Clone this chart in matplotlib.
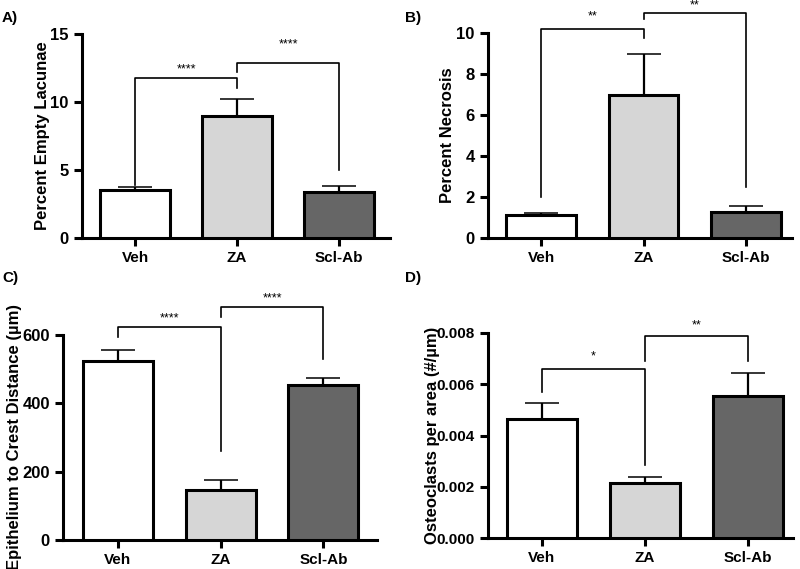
import matplotlib
matplotlib.use("Agg")
import matplotlib.pyplot as plt

plt.rcParams["font.family"] = ["Liberation Sans", "DejaVu Sans"]
plt.rcParams["font.weight"] = "bold"

groups = ["Veh", "ZA", "Scl-Ab"]
colors = ["#ffffff", "#d6d6d6", "#666666"]

# panel A - empty lacunae
lac_mean = [3.5, 9.0, 3.35]
lac_err = [0.25, 1.2, 0.45]
# panel B - necrosis
nec_mean = [1.1, 7.0, 1.25]
nec_err = [0.12, 2.0, 0.32]
# panel C - epithelium to crest distance
dist_mean = [525, 145, 453]
dist_err = [30, 30, 20]
# panel D - osteoclasts per area
ost_mean = [0.00465, 0.00215, 0.00555]
ost_err = [0.00063, 0.00024, 0.0009]

# brackets: (i, j, top, left foot, right foot, label, label y)
lac_br = [(0, 1, 11.8, 3.9, 11.0, "****", 12.4),
          (1, 2, 12.9, 12.2, 5.0, "****", 14.2)]
nec_br = [(0, 1, 10.2, 2.0, 9.75, "**", 10.8),
          (1, 2, 11.0, 10.7, 2.5, "**", 11.36)]
dist_br = [(0, 1, 622, 593, 261, "****", 648),
           (1, 2, 681, 652, 530, "****", 708)]
ost_br = [(0, 1, 0.0066, 0.0057, 0.00286, "*", 0.0071),
          (1, 2, 0.0079, 0.00692, 0.00692, "**", 0.0083)]

W, H = 800, 569
fig = plt.figure(figsize=(8, 5.69), dpi=100)


def panel(px_left, px_right, px_bottom, px_top, means, errs, ymax, yticks,
          ylabel, brackets, xlim, letter, letter_xy, ytickfmt=None, ytsize=12):
    ax = fig.add_axes([px_left / W, (H - px_bottom) / H,
                       (px_right - px_left) / W, (px_bottom - px_top) / H])
    x = range(len(groups))
    ax.bar(x, means, width=0.68, color=colors, edgecolor="black",
           linewidth=2.2, zorder=3)
    ax.errorbar(x, means, yerr=[[0] * 3, errs], fmt="none", ecolor="black",
                elinewidth=1.6, capsize=12.5, capthick=1.1, zorder=2)
    for i, j, top, fl, fr, lab, ly in brackets:
        ax.plot([i, i, j, j], [fl, top, top, fr], color="black", lw=1.2,
                clip_on=False, zorder=4)
        ax.text((i + j) / 2, ly, lab, ha="center", va="center",
                fontsize=9, fontweight="normal", clip_on=False)
    ax.set_xlim(*xlim)
    ax.set_ylim(0, ymax)
    ax.set_yticks(yticks)
    if ytickfmt:
        ax.set_yticklabels([ytickfmt.format(v) for v in yticks])
    ax.set_xticks(list(x))
    ax.set_xticklabels(groups)
    for s in ["top", "right"]:
        ax.spines[s].set_visible(False)
    for s in ["left", "bottom"]:
        ax.spines[s].set_linewidth(2.2)
    ax.tick_params(width=2.2, length=6, labelsize=11)
    ax.tick_params(axis="y", labelsize=ytsize)
    ax.set_ylabel(ylabel, fontsize=12, fontweight="bold")
    fig.text(letter_xy[0] / W, 1 - letter_xy[1] / H, letter, fontsize=11,
             fontweight="bold", va="center", ha="left")
    return ax


axA = panel(82, 390, 238, 34, lac_mean, lac_err, 15, [0, 5, 10, 15],
            "Percent Empty Lacunae", lac_br, (-0.52, 2.5), "A)", (2, 18))
axB = panel(488, 792, 238, 33, nec_mean, nec_err, 10, [0, 2, 4, 6, 8, 10],
            "Percent Necrosis", nec_br, (-0.52, 2.45), "B)", (405, 18))
axC = panel(63, 377, 540, 335, dist_mean, dist_err, 600, [0, 200, 400, 600],
            "Epithelium to Crest Distance (µm)", dist_br, (-0.53, 2.52),
            "C)", (2, 278))
axD = panel(488, 793, 538, 333, ost_mean, ost_err, 0.008,
            [0, 0.002, 0.004, 0.006, 0.008], "Osteoclasts per area (#/µm)",
            ost_br, (-0.525, 2.44), "D)", (405, 278), ytickfmt="{:.3f}",
            ytsize=11)

axA.yaxis.set_label_coords(-32 / 308, 0.5)
axB.yaxis.set_label_coords(-33 / 304, 0.5)
axC.yaxis.set_label_coords(-41 / 314, 0.5)
axD.yaxis.set_label_coords(-48 / 305, 0.5)

fig.savefig("out.png", dpi=100)
